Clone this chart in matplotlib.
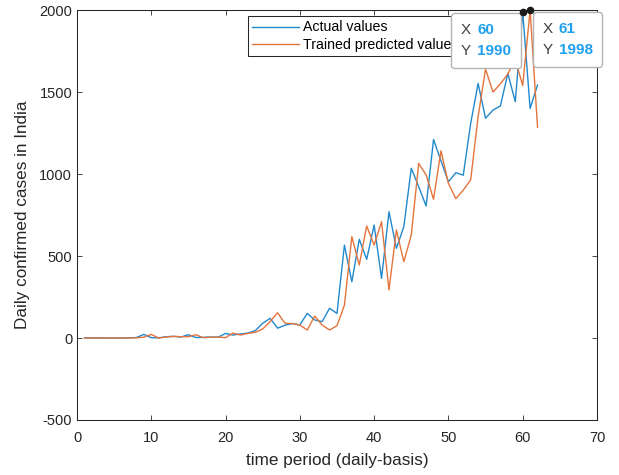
import matplotlib
matplotlib.use("Agg")
import matplotlib.pyplot as plt
from matplotlib.offsetbox import TextArea, HPacker, VPacker, AnnotationBbox

plt.rcParams['font.family'] = ['Liberation Sans', 'DejaVu Sans']
plt.rcParams['axes.unicode_minus'] = False

# daily time index
days = list(range(1, 63))

# actual daily confirmed cases
actual = [1, 1, 1, 0, 0, 0, 1, 3, 22, 2,
          1, 8, 10, 6, 20, 3, 4, 6, 5, 28,
          18, 25, 30, 45, 90, 120, 60, 78, 88, 80,
          150, 110, 100, 181, 150, 567, 343, 602, 480, 689,
          364, 770, 547, 679, 1035, 923, 805, 1211, 1080, 953,
          1008, 993, 1309, 1553, 1340, 1390, 1415, 1614, 1441, 1990,
          1400, 1543]

# trained model prediction
predicted = [0, 0, 0, 0, 0, 0, 0, 1, 5, 22,
             0, 6, 10, 8, 8, 20, 2, 5, 6, 2,
             30, 18, 28, 35, 55, 100, 154, 90, 88, 79,
             49, 134, 79, 49, 75, 200, 618, 445, 683, 567,
             709, 293, 659, 465, 628, 1065, 994, 846, 1142, 943,
             850, 902, 965, 1350, 1640, 1500, 1550, 1610, 1700, 1540,
             1998, 1285]

x_ticks = [0, 10, 20, 30, 40, 50, 60, 70]
y_ticks = [-500, 0, 500, 1000, 1500, 2000]

# data tips shown on the figure
tips = [(60, 1990, 'left'), (61, 1998, 'right')]

fig = plt.figure(figsize=(6.19, 4.75), dpi=100)
ax = fig.add_axes([0.1244, 0.1158, 0.840, 0.863])

ax.plot(days, actual, color='#2289cc', lw=1.0, label='Actual values')
ax.plot(days, predicted, color='#e4743c', lw=1.0, label='Trained predicted values')

ax.set_xlim(0, 70)
ax.set_ylim(-500, 2000)
ax.set_xticks(x_ticks)
ax.set_yticks(y_ticks)
ax.tick_params(direction='in', top=True, right=True, length=3.5, width=0.6,
               colors='#262626', labelsize=10.5)
ax.tick_params(axis='x', pad=8)
for s in ax.spines.values():
    s.set_color('#262626')
    s.set_linewidth(0.75)

ax.set_xlabel('time period (daily-basis)', fontsize=12.3, color='#262626', labelpad=6)
ax.set_ylabel('Daily confirmed cases in India', fontsize=12.3, color='#262626', labelpad=7)

leg = ax.legend(loc='upper left', bbox_to_anchor=(0.329, 0.985), borderaxespad=0,
                fontsize=10.2, handlelength=3.3, labelspacing=0.25, handletextpad=0.3,
                borderpad=0.3, fancybox=False, framealpha=1)
leg.get_frame().set_edgecolor('#262626')
leg.get_frame().set_linewidth(0.75)

# data tips (MATLAB style)
for xv, yv, side in tips:
    rows = []
    for name, val in [('X', str(xv)), ('Y', str(yv))]:
        t1 = TextArea(name, textprops=dict(color='#404040', fontsize=11))
        t2 = TextArea(val, textprops=dict(color='#1ea0ee', fontsize=11, fontweight='bold'))
        rows.append(HPacker(children=[t1, t2], pad=0, sep=4.5, align='baseline'))
    box = VPacker(children=rows, pad=7, sep=5.5, align='left')
    if side == 'left':
        off, align = (-1.1, -1), (1, 1)
    else:
        off, align = (1.8, -1), (0, 1)
    ab = AnnotationBbox(box, (xv, yv), xybox=off, boxcoords='offset points',
                        box_alignment=align, frameon=True, pad=0,
                        bboxprops=dict(boxstyle='round,pad=0,rounding_size=0.25',
                                       facecolor='white', edgecolor='#b4b4b4', lw=1.0),
                        annotation_clip=False, zorder=7)
    ax.add_artist(ab)
    ax.plot([xv], [yv], 'o', color='#1a1a1a', markersize=4.5, zorder=8, clip_on=False)

fig.savefig('out.png', dpi=100)
